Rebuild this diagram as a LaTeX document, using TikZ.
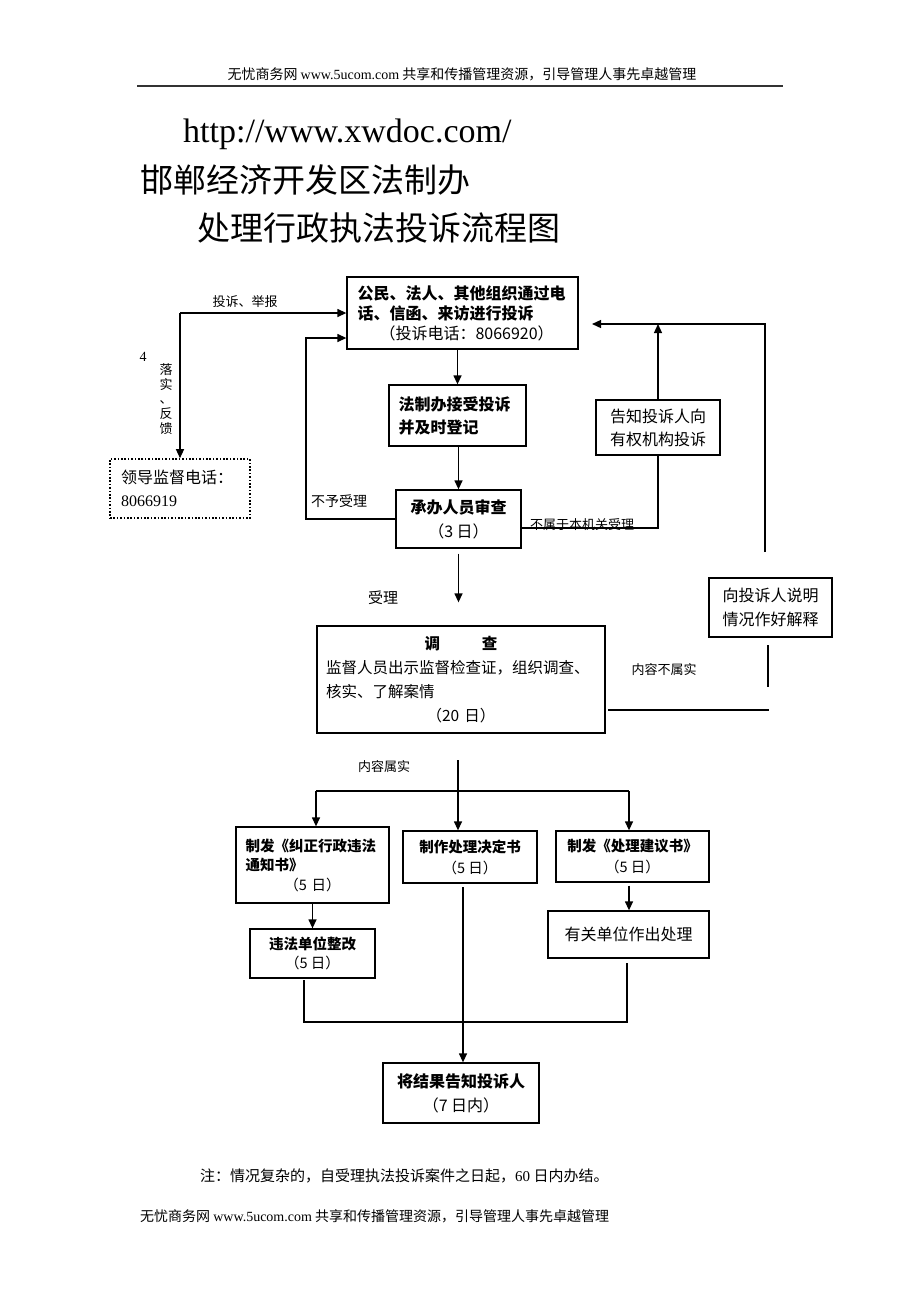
\documentclass[tikz,border=0pt]{standalone}
\usepackage{fontspec}
\setmainfont{Liberation Serif}
\newfontfamily\cjk{Noto Sans CJK SC}
\usepackage{tikz}
\usetikzlibrary{arrows.meta}
\usetikzlibrary{positioning}

\begin{document}
\begin{tikzpicture}[x=1pt,y=-1pt,
	box/.style={draw,line width=1.3pt,inner sep=0pt},
	dotbox/.style={draw,line width=1.6pt,dash pattern=on 1.6pt off 1.8pt,inner sep=0pt},
	arr/.style={line width=1.3pt,-{Triangle[length=9pt,width=8pt]}},
	lnk/.style={line width=1.3pt},
	lbl/.style={inner sep=0pt,font=\cjk\fontsize{13}{15}\selectfont},
	hei/.style={font=\cjk\bfseries\fontsize{16}{#1}\selectfont},
	song/.style={font=\cjk\fontsize{16}{#1}\selectfont},
	heis/.style={font=\cjk\bfseries\fontsize{14.5}{#1}\selectfont}]

	\fill[white] (0,0) rectangle (920,1302);
	\useasboundingbox (0,0) rectangle (920,1302);

	% page head and titles
	\node[inner sep=0pt,font=\cjk\fontsize{14}{16}\selectfont] (hdr) at (462,74) {无忧商务网 {\rmfamily www.5ucom.com} 共享和传播管理资源，引导管理人事先卓越管理};
	\draw[line width=1.5pt,black!80] (137,86) -- (783,86);
	\node[inner sep=0pt,anchor=base west,font=\fontsize{34}{36}\selectfont] (url) at (183,142) {http://www.xwdoc.com/};
	\node[inner sep=0pt,anchor=west,font=\cjk\fontsize{33}{36}\selectfont] (ttl1) at (140,180) {邯郸经济开发区法制办};
	\node[inner sep=0pt,anchor=west,font=\cjk\fontsize{33}{36}\selectfont] (ttl2) at (197,228) {处理行政执法投诉流程图};

	% main column
	\node[box,hei=20,minimum width=231,minimum height=72,text width=210,align=left] (A) at (462.5,313)
		{公民、法人、其他组织通过电\\话、信函、来访进行投诉\\\hspace*{22pt}{\mdseries（投诉电话：8066920）}};
	\node[box,hei=23,minimum width=137,minimum height=61,text width=118,align=left] (B) at (457.5,415.5)
		{法制办接受投诉\\并及时登记};
	\node[box,hei=24,minimum width=125,minimum height=58,align=center] (C) at (458.5,519)
		{承办人员审查\\{\mdseries（3 日）}};
	\node[box,font=\cjk\fontsize{15.5}{24}\selectfont,minimum width=288,minimum height=107,text width=270,align=left] (D) at (461,679.5)
		{\makebox[270pt]{\bfseries 调\hspace{2.7em}查}\\监督人员出示监督检查证，组织调查、\\核实、了解案情\\\makebox[270pt]{（20 日）}};

	% side boxes
	\node[box,song=23,minimum width=124,minimum height=55,align=center] (E) at (658,427.5)
		{告知投诉人向\\有权机构投诉};
	\node[box,song=24,minimum width=123,minimum height=59,align=center] (F) at (770.5,607.5)
		{向投诉人说明\\情况作好解释};
	\node[dotbox,song=23,minimum width=140,minimum height=59,text width=118,align=left] (G) at (180,488.5)
		{领导监督电话：\\{\rmfamily 8066919}};

	% results
	\node[box,heis=19.5,minimum width=153,minimum height=76,text width=134,align=left] (H) at (312.5,865)
		{制发《纠正行政违法\\通知书》\\\makebox[134pt]{\mdseries（5 日）}};
	\node[box,heis=21,minimum width=134,minimum height=52,align=center] (I) at (470,857)
		{制作处理决定书\\{\mdseries（5 日）}};
	\node[box,heis=21,minimum width=153,minimum height=51,align=center] (J) at (632.5,856.5)
		{制发《处理建议书》\\{\mdseries（5 日）}};
	\node[box,heis=19,minimum width=125,minimum height=49,align=center] (K) at (312.5,953.5)
		{违法单位整改\\{\mdseries（5 日）}};
	\node[box,song=20,minimum width=161,minimum height=47,align=center] (L) at (628.5,934.5)
		{有关单位作出处理};
	\node[box,hei=24,minimum width=156,minimum height=60,align=center] (M) at (461,1093)
		{将结果告知投诉人\\{\mdseries（7 日内）}};

	% free ends of the connectors
	\coordinate [] (rp) at (180,313);
	\coordinate [] (nr) at (306,338);
	\coordinate [] (nbs) at (521,528);
	\coordinate [] (rt) at (765,324);
	\coordinate [] (rb) at (765,552);
	\coordinate [] (ain) at (592,324);
	\coordinate [] (fb1) at (768,645);
	\coordinate [] (fb2) at (768,687);
	\coordinate [] (dx) at (608,710);
	\coordinate [] (dxe) at (769,710);
	\coordinate [] (ds) at (458,760);
	\coordinate [] (sl) at (316,791);
	\coordinate [] (sr) at (629,791);
	\coordinate [] (ib) at (463,887);
	\coordinate [] (kb) at (304,980);
	\coordinate [] (jn1) at (304,1022);
	\coordinate [] (jn2) at (627,1022);
	\coordinate [] (lb) at (627,963);

	% complaint and feedback
	\draw[arr] (rp) -- (A.west |- rp);
	\draw[arr] (rp) -- (G.north);
	\node[lbl] (tj) at (245,302) {投诉、举报};
	\node[inner sep=0pt,font=\fontsize{14}{16}\selectfont] (four) at (143,357) {4};
	\node[lbl,align=center,font=\cjk\fontsize{13}{14.8}\selectfont] (lsfk) at (166,399) {落\\实\\、\\反\\馈};

	\draw[arr] (B.north |- A.south) -- (B.north);
	\draw[arr] (C.north |- B.south) -- (C.north);
	\draw[arr,shorten <=5pt,shorten >=23pt] (C.south) -- (C.south |- D.north);
	\node[lbl,font=\cjk\fontsize{15}{16}\selectfont] (sl1) at (383,598) {受理};

	% not accepted
	\draw[arr] (C.west) -| (nr) -- (A.west |- nr);
	\node[lbl,font=\cjk\fontsize{14}{16}\selectfont] (byl) at (339,501) {不予受理};
	\draw[lnk] (nbs) -| (E.south);
	\node[lbl] (bsy) at (582,525) {不属于本机关受理};
	\draw[arr] (E.north) -- (E.north |- rt);
	\draw[arr] (rb) -- (rt) -- (ain);

	% not true
	\draw[lnk] (fb1) -- (fb2);
	\draw[lnk] (dx) -- (dxe);
	\node[lbl] (nbss) at (664,670) {内容不属实};

	% true
	\node[lbl] (nss) at (384,767) {内容属实};
	\draw[arr] (ds) -- (ds |- I.north);
	\draw[lnk] (sl) -- (sr);
	\draw[arr] (sl) -- (sl |- H.north);
	\draw[arr] (sr) -- (sr |- J.north);
	\draw[arr] (H.south) -- (K.north);
	\draw[arr,shorten <=3pt] (J.south -| sr) -- (sr |- L.north);
	\draw[lnk] (kb) -- (jn1) -- (jn2) -- (lb);
	\draw[arr] (ib) -- (ib |- M.north);

	% note and page foot
	\node[inner sep=0pt,anchor=west,font=\cjk\fontsize{15}{17}\selectfont] (note) at (200,1176) {注：情况复杂的，自受理执法投诉案件之日起，{\rmfamily 60} 日内办结。};
	\node[inner sep=0pt,anchor=west,font=\cjk\fontsize{14}{16}\selectfont] (ftr) at (140,1216) {无忧商务网 {\rmfamily www.5ucom.com} 共享和传播管理资源，引导管理人事先卓越管理};
\end{tikzpicture}
\end{document}
